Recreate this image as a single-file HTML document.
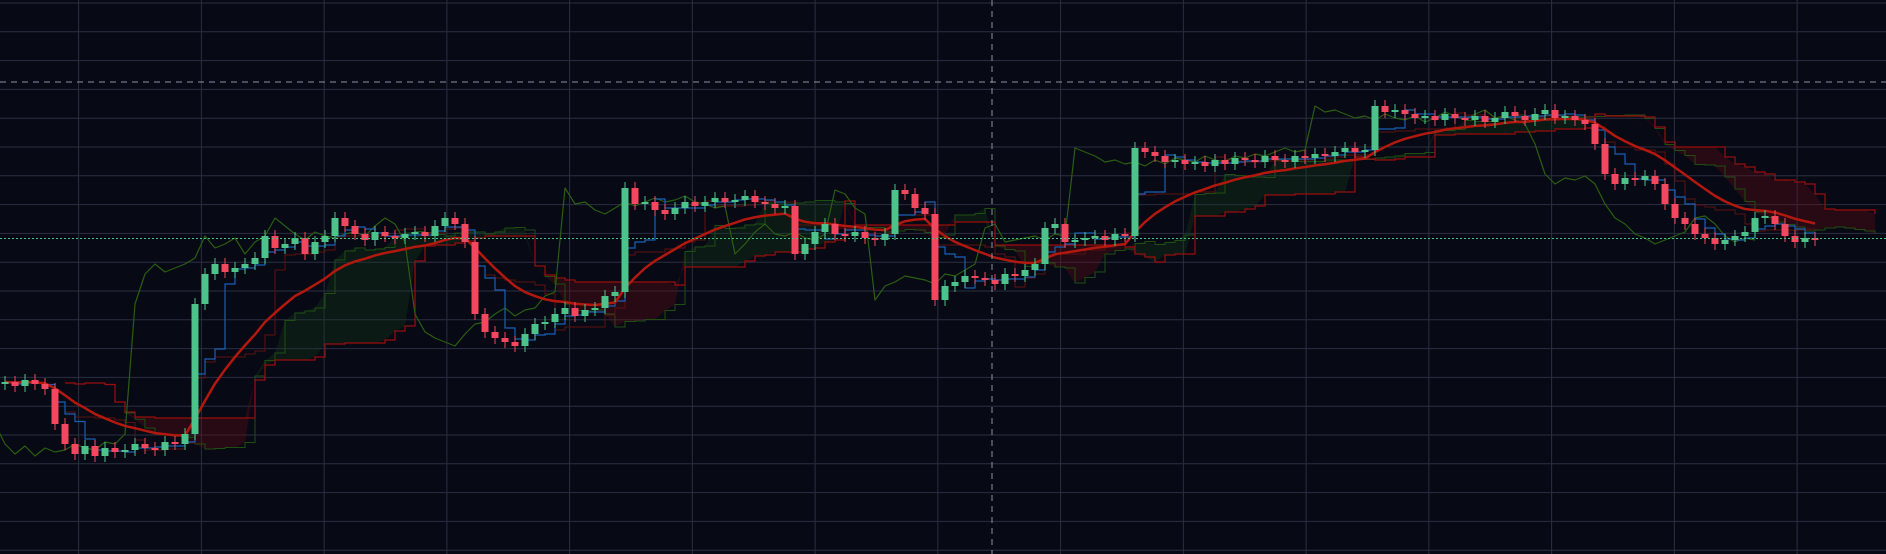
<!DOCTYPE html>
<html><head><meta charset="utf-8"><style>
html,body{margin:0;padding:0;background:#070a14;overflow:hidden}
svg{display:block}
</style></head><body>
<svg id="chart" width="1886" height="554" viewBox="0 0 1886 554" xmlns="http://www.w3.org/2000/svg">
<rect width="1886" height="554" fill="#070a14"/>
<g id="grid"></g>
<g id="cloud"></g>
<g id="lines"></g>
<g id="candles"></g>
<g id="overlay"></g>
</svg>
<script>
const closes = [172,168,174,170,165,130,110,100,108,98,106,102,104,110,106,104,112,110,120,250,
280,290,282,286,290,296,318,306,310,316,300,312,318,336,328,320,314,322,318,316,
320,322,318,328,336,330,312,240,222,216,212,208,220,230,232,240,246,238,244,246,
258,262,366,350,352,344,340,346,352,348,352,356,352,354,358,352,350,346,348,300,
310,322,330,320,318,322,316,314,320,364,360,346,340,254,268,272,278,276,274,270,
280,278,284,290,326,330,312,314,316,318,314,320,318,406,402,398,392,394,390,392,
388,394,390,396,394,392,398,394,392,398,396,400,398,402,406,402,404,448,442,444,
440,436,438,434,440,436,434,438,432,436,442,438,434,440,444,436,438,434,430,410,
380,370,376,374,378,370,350,336,330,320,316,310,314,318,322,336,338,330,318,312,
316,314];
const firstOpen = 170;
const tenkanPeriod = 3, kijunPeriod = 8, spanBPeriod = 16, displacement = 6, maPeriod = 15;

const NS = "http://www.w3.org/2000/svg";
const X0 = 5, STEP = 10;
function xScale(i){ return X0 + i*STEP; }
function yScale(p){ return 554 - p; }
function mk(tag, attrs, parent){ const e=document.createElementNS(NS,tag); for(const k in attrs) e.setAttribute(k,attrs[k]); parent.appendChild(e); return e; }

const grid = document.getElementById('grid');
for(let k=0;k<15;k++){ const x=78.6+122.75*k;
  const l=mk('line',{x1:x,x2:x,y1:0,y2:554,stroke:'#2a2e42','stroke-width':1},grid);
  
   }
for(let k=0;k<20;k++){ const y=3+28.8*k;
  const l=mk('line',{x1:0,x2:1886,y1:y,y2:y,stroke:'#2a2e42','stroke-width':1},grid);
  
   }

const n = closes.length;
const opens = closes.map((c,i)=> i===0 ? firstOpen : closes[i-1]);
const highs = closes.map((c,i)=> Math.max(c,opens[i]) + 6);
const lows = closes.map((c,i)=> Math.min(c,opens[i]) - 6);
function mid(i,p){ let h=-1e9,l=1e9; for(let j=Math.max(0,i-p+1);j<=i;j++){h=Math.max(h,highs[j]);l=Math.min(l,lows[j]);} return (h+l)/2; }
const tenkan = closes.map((c,i)=>mid(i,tenkanPeriod));
const kijun = closes.map((c,i)=>mid(i,kijunPeriod));
const spanA = closes.map((c,i)=>(tenkan[i]+kijun[i])/2);
const spanB = closes.map((c,i)=>mid(i,spanBPeriod));
const ma=[]; { const a=2/(maPeriod+1); let v=closes[0]; closes.forEach((c,i)=>{ v = i?v+a*(c-v):c; ma.push(v); }); }

const cloud = document.getElementById('cloud');
for(let i=0;i<n-1;i++){
  const xa=xScale(i+displacement), xb=xScale(i+1+displacement);
  const up = spanA[i] >= spanB[i];
  const pts = `${xa},${yScale(spanA[i])} ${xb},${yScale(spanA[i+1])} ${xb},${yScale(spanB[i+1])} ${xa},${yScale(spanB[i])}`;
  const pg = mk('polygon',{points:pts,fill: up?'rgba(20,70,25,0.28)':'rgba(110,12,20,0.32)'},cloud);
  
  
}
const lines = document.getElementById('lines');
function poly(vals, shift, color, w, name){
  let d=''; vals.forEach((v,i)=>{ const x=xScale(i+shift); if(x<-20) return; d += (d?' L':'M') + x + ',' + yScale(v); });
  const p = mk('path',{d:d,fill:'none',stroke:color,'stroke-width':w,'stroke-linejoin':'round'},lines);
  
  
}
function stepPoly(vals, shift, color, w, name){
  let d=''; vals.forEach((v,i)=>{ const x=xScale(i+shift); d += (d? ' L'+x+','+yScale(vals[i-1])+' L':'M') + x + ',' + yScale(v); });
  const p = mk('path',{d:d,fill:'none',stroke:color,'stroke-width':w},lines);
  
  
}
stepPoly(spanA, displacement, '#1f4d12', 1, 'senkou-span-a');
stepPoly(spanB, displacement, '#9a0f0f', 1.2, 'senkou-span-b');
stepPoly(kijun, 0, '#5e1010', 1, 'kijun-line');
poly(closes, -displacement, '#2b5d12', 1.2, 'chikou-span');
stepPoly(tenkan, 0, '#1a5fb4', 1.2, 'tenkan-line');
poly(ma, 0, '#b3180e', 2.5, 'moving-average');

const cg = document.getElementById('candles');
closes.forEach((c,i)=>{
  const o=opens[i], up=c>=o, col= up?'#4cc38a':'#f2475e', x=xScale(i);
  const w=mk('line',{x1:x,x2:x,y1:yScale(highs[i]),y2:yScale(lows[i]),stroke:col,'stroke-width':1},cg);
  
  
  const top=yScale(Math.max(o,c)), h=Math.max(2,Math.abs(o-c));
  const b=mk('rect',{x:x-3.5,y:top,width:7,height:h,fill:col},cg);
  
  
});

const ov = document.getElementById('overlay');
const l1=mk('line',{x1:0,x2:1886,y1:82,y2:82,stroke:'#8d93a3','stroke-width':1,'stroke-dasharray':'6,5'},ov);


const l2=mk('line',{x1:992,x2:992,y1:0,y2:554,stroke:'#8d93a3','stroke-width':1,'stroke-dasharray':'6,5'},ov);


const l3=mk('line',{x1:0,x2:1886,y1:238.5,y2:238.5,stroke:'#4cc38a','stroke-width':1,'stroke-dasharray':'2,2'},ov);


</script>
</body></html>
